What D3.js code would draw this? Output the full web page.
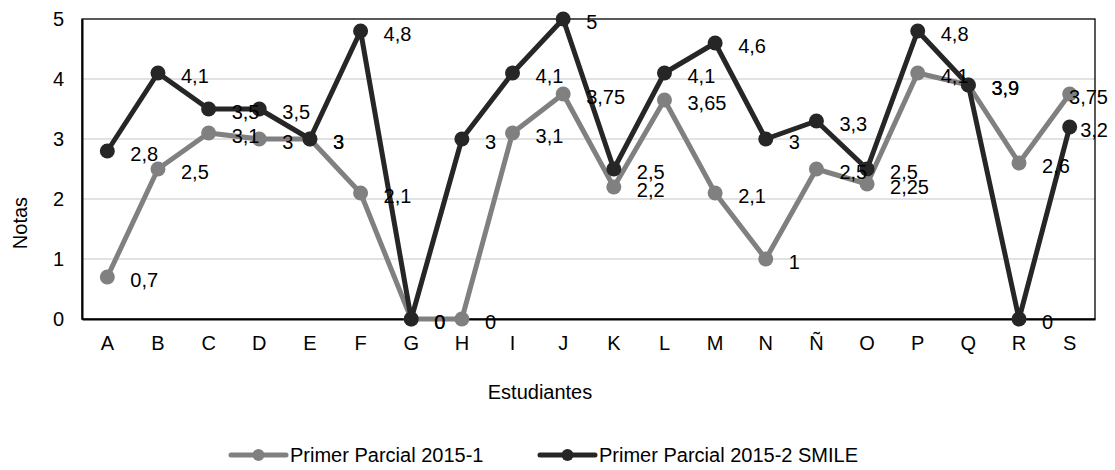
<!DOCTYPE html>
<html>
<head>
  <meta charset="utf-8">
  <style>
    body { margin: 0; background: #fff; }
    svg text { font-family: Arial, "Liberation Sans", sans-serif; fill: #000; }
  </style>
  <title>Notas por estudiante</title>
</head>
<body>
  <svg width="1115" height="470"></svg>
  <script src="https://cdn.jsdelivr.net/npm/d3@7/dist/d3.min.js"></script>
  <script>
    // data
    var categories = ["A", "B", "C", "D", "E", "F", "G", "H", "I", "J",
                      "K", "L", "M", "N", "Ñ", "O", "P", "Q", "R", "S"];
    var parcial1 = [0.7, 2.5, 3.1, 3, 3, 2.1, 0, 0, 3.1, 3.75,
                    2.2, 3.65, 2.1, 1, 2.5, 2.25, 4.1, 3.9, 2.6, 3.75];
    var parcial2 = [2.8, 4.1, 3.5, 3.5, 3, 4.8, 0, 3, 4.1, 5,
                    2.5, 4.1, 4.6, 3, 3.3, 2.5, 4.8, 3.9, 0, 3.2];
    var seriesNames = ["Primer Parcial 2015-1", "Primer Parcial 2015-2 SMILE"];
    var yTicks = [0, 1, 2, 3, 4, 5];

    var series = [
      { name: seriesNames[0], values: parcial1, color: "#808080" },
      { name: seriesNames[1], values: parcial2, color: "#262626" }
    ];

    var svg = d3.select("svg"),
        plotLeft = 82, plotRight = 1095, plotTop = 19, plotBottom = 319;

    var x = d3.scaleBand().domain(categories).range([plotLeft, plotRight]),
        y = d3.scaleLinear().domain([0, 5]).range([plotBottom, plotTop]);

    function cx(c) { return x(c) + x.bandwidth() / 2; }
    function fmt(v) { return String(v).replace(".", ","); }

    // gridlines
    svg.append("g")
       .selectAll("line")
       .data(yTicks.filter(function(t) { return t > 0 && t < 5; }))
       .enter().append("line")
       .attr("x1", plotLeft).attr("x2", plotRight)
       .attr("y1", function(d) { return y(d); })
       .attr("y2", function(d) { return y(d); })
       .attr("stroke", "#d9d9d9")
       .attr("stroke-width", 1.5);

    // frame
    svg.append("rect")
       .attr("x", plotLeft).attr("y", plotTop)
       .attr("width", plotRight - plotLeft).attr("height", plotBottom - plotTop)
       .attr("fill", "none").attr("stroke", "#000").attr("stroke-width", 1.3);

    // axes
    var yAxis = svg.append("g")
       .attr("transform", "translate(" + plotLeft + ",0)")
       .call(d3.axisLeft(y).tickValues(yTicks).tickFormat(d3.format("d"))
               .tickSize(0).tickPadding(18));
    var xAxis = svg.append("g")
       .attr("transform", "translate(0," + plotBottom + ")")
       .call(d3.axisBottom(x).tickSize(0).tickPadding(17));
    [xAxis, yAxis].forEach(function(a) {
      a.select(".domain").attr("stroke", "#000").attr("stroke-width", 2);
      a.selectAll("text").attr("font-size", 20).attr("fill", "#000")
       .attr("font-family", "Arial, 'Liberation Sans', sans-serif");
    });

    // axis titles
    svg.append("text")
       .attr("transform", "translate(20,223) rotate(-90)")
       .attr("text-anchor", "middle")
       .attr("dy", "0.35em")
       .attr("font-size", 20)
       .text("Notas");
    svg.append("text")
       .attr("x", 540).attr("y", 392)
       .attr("text-anchor", "middle")
       .attr("dy", "0.35em")
       .attr("font-size", 20)
       .text("Estudiantes");

    // lines and markers
    var line = d3.line()
       .x(function(d, i) { return cx(categories[i]); })
       .y(function(d) { return y(d); });

    series.forEach(function(s) {
      var g = svg.append("g");
      g.append("path")
       .datum(s.values)
       .attr("d", line)
       .attr("fill", "none")
       .attr("stroke", s.color)
       .attr("stroke-width", 5)
       .attr("stroke-linejoin", "round");
      g.selectAll("circle")
       .data(s.values)
       .enter().append("circle")
       .attr("cx", function(d, i) { return cx(categories[i]); })
       .attr("cy", function(d) { return y(d); })
       .attr("r", 7.5)
       .attr("fill", s.color);
    });

    // data labels, to the right of each point, kept inside the chart
    series.forEach(function(s) {
      svg.append("g")
       .selectAll("text")
       .data(s.values)
       .enter().append("text")
       .attr("x", function(d, i) { return cx(categories[i]) + 23; })
       .attr("y", function(d) { return y(d) + 2.5; })
       .attr("dy", "0.35em")
       .attr("font-size", 20)
       .text(fmt)
       .each(function() {
         var t = d3.select(this),
             w = this.getComputedTextLength(),
             x0 = +t.attr("x");
         if (x0 + w > 1108) t.attr("x", 1108 - w);
       });
    });

    // legend
    var legendX = [231, 540];
    series.forEach(function(s, i) {
      var g = svg.append("g")
         .attr("transform", "translate(" + legendX[i] + ",455)");
      g.append("line")
       .attr("x1", 0).attr("x2", 55)
       .attr("stroke", s.color).attr("stroke-width", 5)
       .attr("stroke-linecap", "round");
      g.append("circle")
       .attr("cx", 27.5).attr("r", 6)
       .attr("fill", s.color);
      g.append("text")
       .attr("x", 59)
       .attr("dy", "0.35em")
       .attr("font-size", 20)
       .text(s.name);
    });
  </script>
</body>
</html>
